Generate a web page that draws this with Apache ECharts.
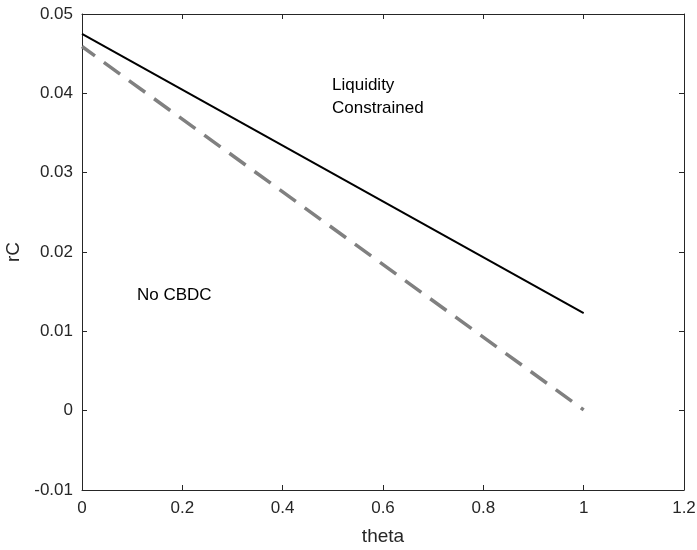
<!DOCTYPE html>
<html>
<head>
<meta charset="utf-8">
<script src="https://cdn.jsdelivr.net/npm/echarts@6/dist/echarts.min.js"></script>
<style>
  html, body { margin: 0; padding: 0; background: #fff; }
  #main { width: 697px; height: 550px; }
</style>
</head>
<body>
<div id="main"></div>
<script>
// theta values and rC for both cases
var theta = [0, 1]
var liquidityConstrained = [0.0475, 0.0123]
var noCBDC = [0.0459, 0.0001]
var xTicks = [0, 0.2, 0.4, 0.6, 0.8, 1, 1.2]
var yTicks = [-0.01, 0, 0.01, 0.02, 0.03, 0.04, 0.05]

var axisColor = '#262626'
var font = 'Arial, "Liberation Sans", sans-serif'

function pairs(xs, ys) {
  return xs.map(function (x, i) { return [x, ys[i]] })
}

var chart = echarts.init(document.getElementById('main'))

var boxAxis = {
  axisLine: { show: true, onZero: false, lineStyle: { color: axisColor, width: 1 } },
  axisTick: { show: true, inside: true, length: 5, lineStyle: { color: axisColor } },
  splitLine: { show: false }
}

chart.setOption({
  animation: false,
  backgroundColor: '#fff',
  grid: { left: 82, right: 13, top: 14, bottom: 60, containLabel: false, outerBoundsMode: 'none' },
  xAxis: [
    Object.assign({
      type: 'value', min: 0, max: 1.2, interval: 0.2,
      name: 'theta', nameLocation: 'middle', nameGap: 37,
      nameTextStyle: { color: axisColor, fontSize: 19, fontFamily: font },
      axisLabel: {
        color: axisColor, fontSize: 17, fontFamily: font, margin: 10,
        formatter: function (v) { return String(+v.toFixed(1)) }
      }
    }, boxAxis),
    Object.assign({
      type: 'value', min: 0, max: 1.2, interval: 0.2, position: 'top',
      axisLabel: { show: false }
    }, boxAxis)
  ],
  yAxis: [
    Object.assign({
      type: 'value', min: -0.01, max: 0.05, interval: 0.01,
      name: 'rC', nameLocation: 'middle', nameGap: 59,
      nameTextStyle: { color: axisColor, fontSize: 19, fontFamily: font },
      axisLabel: {
        color: axisColor, fontSize: 17, fontFamily: font, margin: 9,
        formatter: function (v) { return String(+v.toFixed(2)) }
      }
    }, boxAxis),
    Object.assign({
      type: 'value', min: -0.01, max: 0.05, interval: 0.01, position: 'right',
      axisLabel: { show: false }
    }, boxAxis)
  ],
  series: [
    {
      name: 'Liquidity Constrained',
      type: 'line',
      data: pairs(theta, liquidityConstrained),
      symbol: 'none',
      lineStyle: { color: '#000', width: 2 }
    },
    {
      name: 'No CBDC',
      type: 'line',
      data: pairs(theta, noCBDC),
      symbol: 'none',
      lineStyle: { color: '#808080', width: 3.5, type: [20, 11], dashOffset: 4 }
    }
  ],
  graphic: [
    {
      type: 'text', left: 332, top: 74,
      style: { text: 'Liquidity\nConstrained', fill: '#000', fontSize: 17, fontFamily: font, lineHeight: 23 }
    },
    {
      type: 'text', left: 137, top: 287,
      style: { text: 'No CBDC', fill: '#000', fontSize: 17, fontFamily: font }
    }
  ]
})
</script>
</body>
</html>
